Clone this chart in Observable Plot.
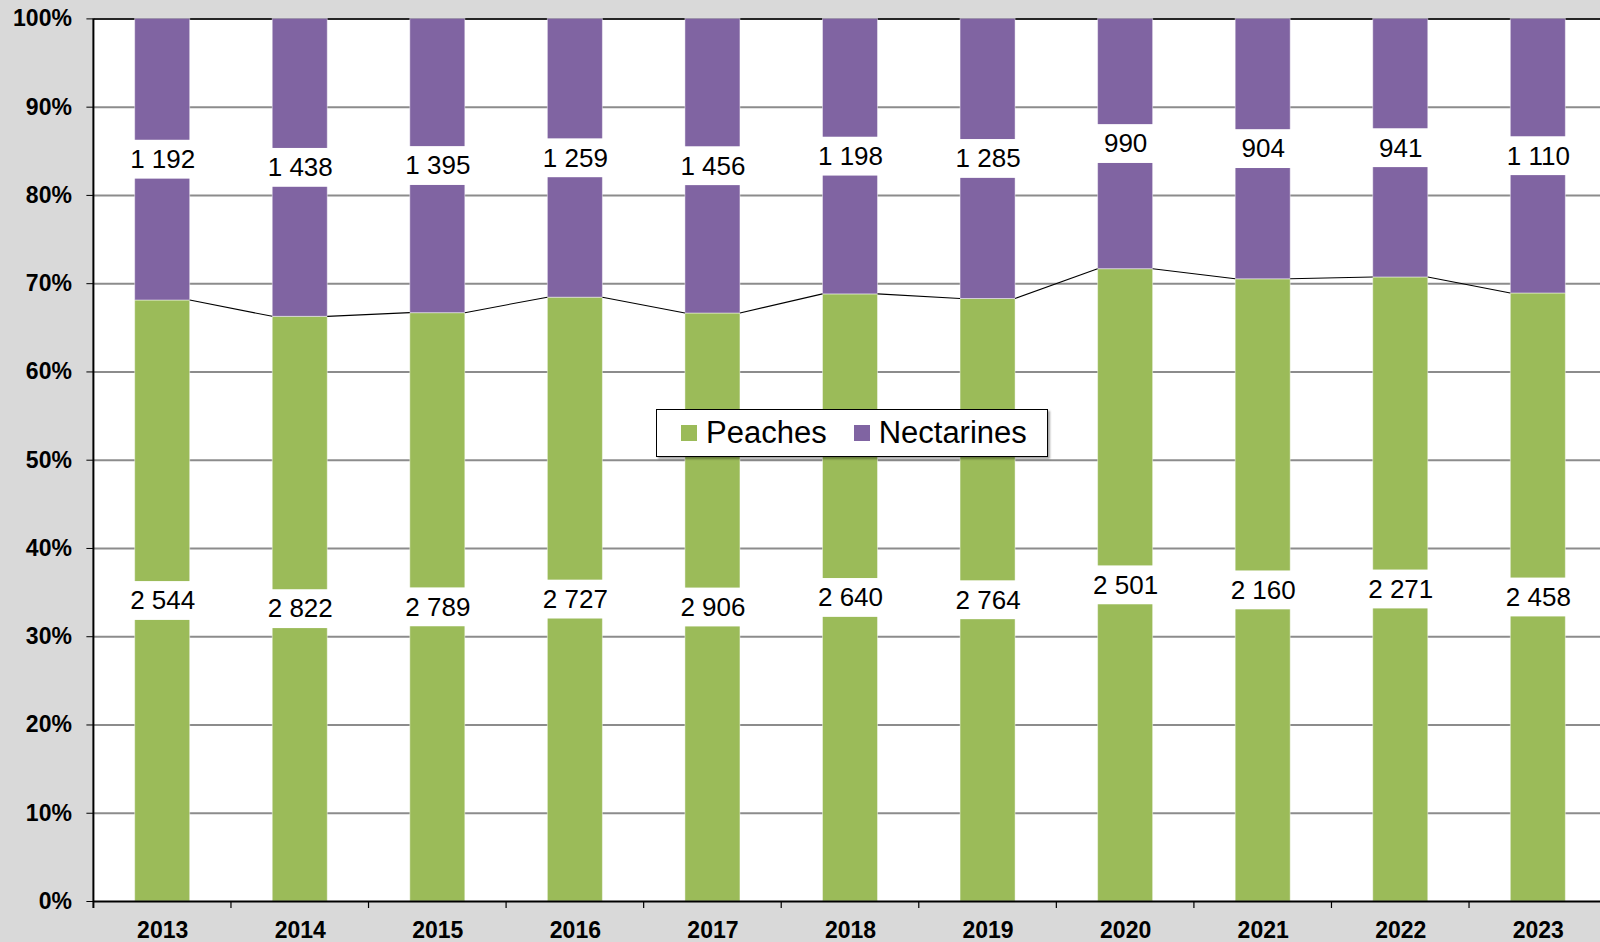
<!DOCTYPE html>
<html><head><meta charset="utf-8">
<script src="https://cdn.jsdelivr.net/npm/d3@7"></script>
<script src="https://cdn.jsdelivr.net/npm/@observablehq/plot@0.6"></script>
<style>
html,body{margin:0;padding:0;background:#d9d9d9;overflow:hidden;width:1600px;height:942px;}
#wrap{position:relative;width:1600px;height:942px;overflow:hidden;}
#wrap svg{position:absolute;left:0;top:0;max-width:none;}
#legend{position:absolute;left:656px;top:409px;width:392px;height:48px;box-sizing:border-box;background:#fff;border:1px solid #000;box-shadow:2px 2px 2px rgba(0,0,0,0.35);display:flex;align-items:center;padding-left:24px;font-family:"Liberation Sans",Arial,sans-serif;font-size:31px;color:#000;}
.item{display:flex;align-items:center;margin-right:27px;}
.sw{width:16px;height:16px;margin-right:9px;}
</style></head>
<body><div id="wrap"></div>
<script>
const years = ["2013","2014","2015","2016","2017","2018","2019","2020","2021","2022","2023"];
const fruits = ["Peaches","Nectarines"];
const peaches = [2544,2822,2789,2727,2906,2640,2764,2501,2160,2271,2458];
const nectarines = [1192,1438,1395,1259,1456,1198,1285,990,904,941,1110];
const fruitColors = ["#9bbb59","#8064a2"];
const yTicks = [0,0.1,0.2,0.3,0.4,0.5,0.6,0.7,0.8,0.9,1];

const series = [peaches, nectarines];
const rows = [];
years.forEach((yr, i) => {
  const total = d3.sum(series, s => s[i]);
  let acc = 0;
  fruits.forEach((f, j) => {
    const v = series[j][i];
    const lo = acc / total; acc += v; const hi = acc / total;
    rows.push({year: yr, fruit: f, value: v, lo, hi, mid: (lo + hi) / 2});
  });
});
const peachShare = years.map((_, i) => peaches[i] / (peaches[i] + nectarines[i]));

const fmt = d3.formatLocale({decimal: ",", thousands: " ", grouping: [3], currency: ["", ""]}).format(",d");
const BOX_HALF = 0.022;

function decor(index, scales, values, dimensions) {
  const {x, y} = scales;
  const bw = x.bandwidth();
  const step = x.step();
  const {marginLeft} = dimensions;
  const g = d3.create("svg:g");
  for (let i = 0; i < years.length - 1; i++) {
    g.append("line")
      .attr("x1", x(years[i]) + bw).attr("y1", y(peachShare[i]))
      .attr("x2", x(years[i + 1])).attr("y2", y(peachShare[i + 1]))
      .attr("stroke", "#000").attr("stroke-width", 1.1);
  }
  g.append("line")
    .attr("x1", marginLeft).attr("x2", marginLeft)
    .attr("y1", y(1)).attr("y2", y(0) + 7)
    .attr("stroke", "#000").attr("stroke-width", 2);
  for (let i = 1; i <= years.length; i++) {
    const xb = marginLeft + i * step;
    g.append("line")
      .attr("x1", xb).attr("x2", xb)
      .attr("y1", y(0)).attr("y2", y(0) + 7)
      .attr("stroke", "#000").attr("stroke-width", 1.2);
  }
  return g.node();
}

const chart = Plot.plot({
  width: 1610, height: 942,
  marginLeft: 93.4, marginRight: 3.4, marginTop: 18.4, marginBottom: 41,
  style: {background: "transparent", fontFamily: "'Liberation Sans', Arial, sans-serif", color: "#000", overflow: "visible", maxWidth: "none"},
  x: {domain: years, paddingInner: 0.6, paddingOuter: 0.3, round: false, label: null},
  y: {domain: [0, 1], label: null},
  color: {domain: fruits, range: fruitColors},
  marks: [
    Plot.frame({fill: "white", stroke: "none"}),
    Plot.ruleY(yTicks.filter(t => t > 0 && t < 1), {stroke: "#8c8c8c", strokeWidth: 2}),
    Plot.ruleY([1], {stroke: "#262626", strokeWidth: 2}),
    Plot.barY(rows, {x: "year", y1: "lo", y2: "hi", fill: "fruit", stroke: "white", strokeOpacity: 0.45, strokeWidth: 1}),
    decor,
    Plot.barY(rows, {x: "year", y1: d => d.mid - BOX_HALF, y2: d => d.mid + BOX_HALF, fill: "white", insetLeft: -8, insetRight: -8}),
    Plot.text(rows, {x: "year", y: "mid", text: d => fmt(d.value), fontSize: 26, fill: "black"}),
    Plot.ruleY([0], {stroke: "black", strokeWidth: 2}),
    Plot.axisY({ticks: yTicks, tickFormat: d3.format(".0%"), tickSize: 7, tickPadding: 15, fontSize: 23, fontWeight: "bold", stroke: "black", label: null}),
    Plot.axisX({tickSize: 0, tickPadding: 20, fontSize: 23, fontWeight: "bold", label: null})
  ]
});

const wrap = document.getElementById("wrap");
wrap.appendChild(chart);

const legend = document.createElement("div");
legend.id = "legend";
fruits.forEach((f, i) => {
  const item = document.createElement("div");
  item.className = "item";
  const sw = document.createElement("div");
  sw.className = "sw";
  sw.style.background = fruitColors[i];
  const lab = document.createElement("span");
  lab.textContent = f;
  item.appendChild(sw); item.appendChild(lab);
  legend.appendChild(item);
});
wrap.appendChild(legend);
</script>
</body></html>
